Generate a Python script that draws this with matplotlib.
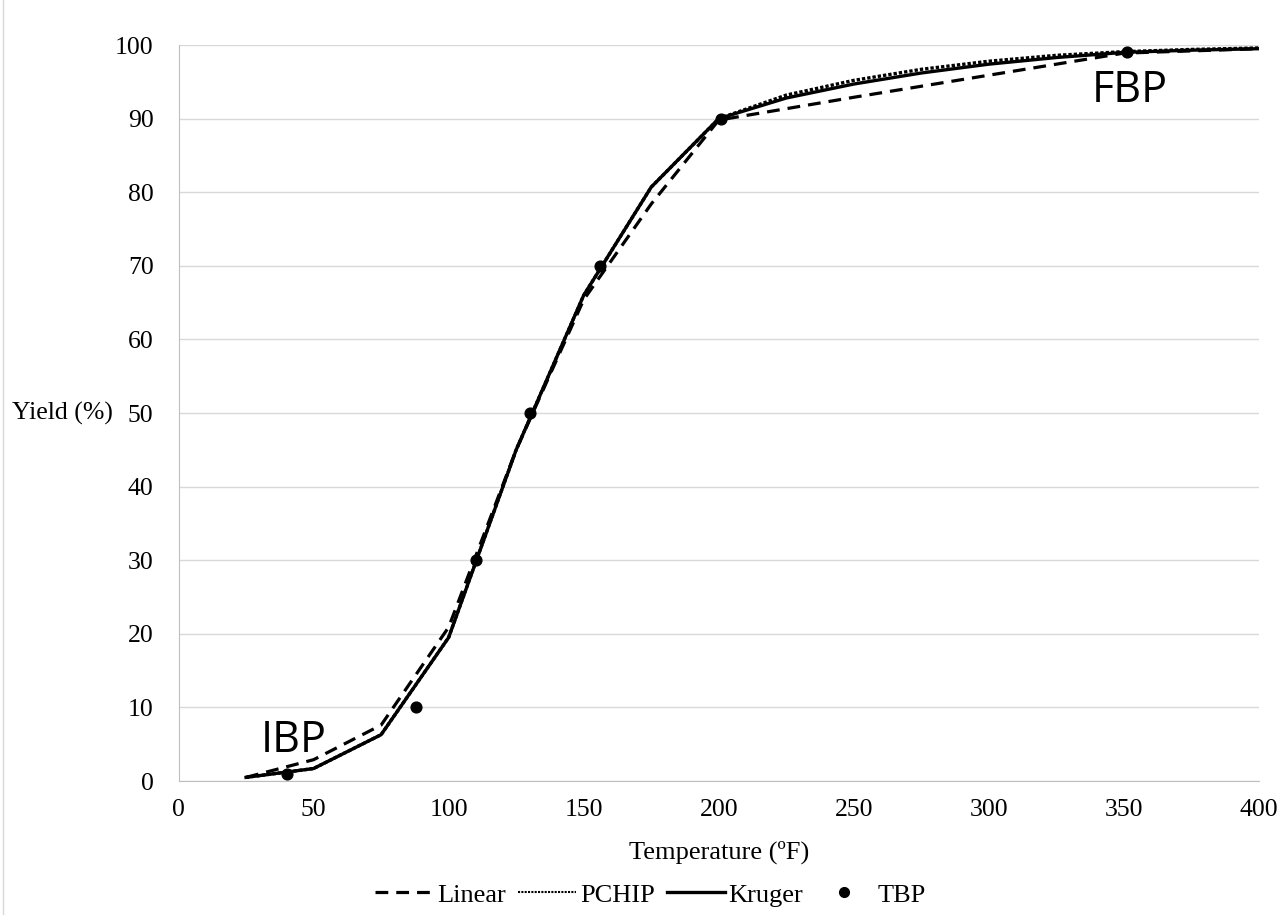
import numpy as np
import matplotlib.pyplot as plt
from matplotlib.lines import Line2D

################################################################################
### data
temp_lin = [25, 50, 75, 100, 125, 150, 175, 200, 250, 300, 350, 400]
yield_lin = [0.5, 2.9, 7.6, 20.9, 45.0, 65.4, 78.4, 89.8, 92.9, 95.9, 98.9, 99.5]

temp_pchip = [25, 50, 75, 100, 125, 150, 175, 200, 225, 250, 275, 300, 325, 350, 375, 400]
yield_pchip = [0.5, 1.7, 6.3, 19.5, 45.0, 66.0, 80.7, 90.0, 93.2, 95.2, 96.7, 97.8,
               98.6, 99.1, 99.4, 99.6]

temp_kruger = [25, 50, 75, 100, 125, 150, 175, 200, 225, 250, 275, 300, 325, 350, 375, 400]
yield_kruger = [0.5, 1.7, 6.3, 19.5, 45.0, 66.0, 80.7, 90.0, 92.8, 94.7, 96.2, 97.4,
                98.3, 99.0, 99.3, 99.5]

temp_tbp = [40, 88, 110, 130, 156, 201, 351]
yield_tbp = [1, 10, 30, 50, 70, 90, 99]

xticks = np.arange(0, 401, 50)
yticks = np.arange(0, 101, 10)

################################################################################
### plot
plt.rcParams['font.family'] = ['Liberation Serif', 'DejaVu Serif']

fig = plt.figure(figsize=(12.88, 9.15), dpi=100)
ax = fig.add_axes([0.1386, 0.1464, 0.8389, 0.8044])

ax.plot(temp_pchip, yield_pchip, color='black', linestyle=(0, (1, 0.6)), lw=2.4)
ax.plot(temp_kruger, yield_kruger, color='black', linestyle='-', lw=2.4)
ax.plot(temp_lin, yield_lin, color='black', linestyle=(0, (4, 2.5)), lw=2.3)
ax.scatter(temp_tbp, yield_tbp, s=60, color='black', zorder=5)

ax.text(30.5, 4.0, 'IBP', fontsize=31, family='Open Sans', ha='left', va='baseline')
ax.text(338, 93.8, 'FBP', fontsize=31, family='Open Sans', ha='left', va='center')

ax.set_xlim(0, 400)
ax.set_ylim(0, 100)
ax.set_xticks(xticks)
ax.set_yticks(yticks)
ax.tick_params(length=0, labelsize=18.5)
ax.tick_params(axis='x', pad=13)
ax.tick_params(axis='y', pad=18)

ax.grid(axis='y', color='#d9d9d9', lw=1)
ax.set_axisbelow(True)
for s in ['right', 'top']:
    ax.spines[s].set_visible(False)
ax.spines['bottom'].set_color('#bfbfbf')
ax.spines['left'].set_color('#bfbfbf')

ax.set_xlabel('Temperature (ºF)', fontsize=19, labelpad=14)
ax.set_ylabel('Yield (%)', fontsize=18.5, rotation=0, ha='left', va='center')
ax.yaxis.set_label_coords(-0.154, 0.5)

handles = [
    Line2D([], [], color='black', linestyle=(0, (4, 2.5)), lw=2.3),
    Line2D([], [], color='black', linestyle=(0, (1, 0.6)), lw=1.5),
    Line2D([], [], color='black', linestyle='-', lw=2.4),
    Line2D([], [], color='black', marker='o', linestyle='none', markersize=7),
]
fig.legend(handles, ['Linear', 'PCHIP', 'Kruger', 'TBP'], loc='center',
           bbox_to_anchor=(0.505, 0.022), ncol=4, frameon=False, fontsize=19,
           handlelength=2.2, handletextpad=0.15, columnspacing=0.45)

# thin frame line on the left edge
fig.add_artist(Line2D([0.002, 0.002], [0.0, 1.0], color='#d9d9d9', lw=1))

plt.savefig('out.png', dpi=100)
